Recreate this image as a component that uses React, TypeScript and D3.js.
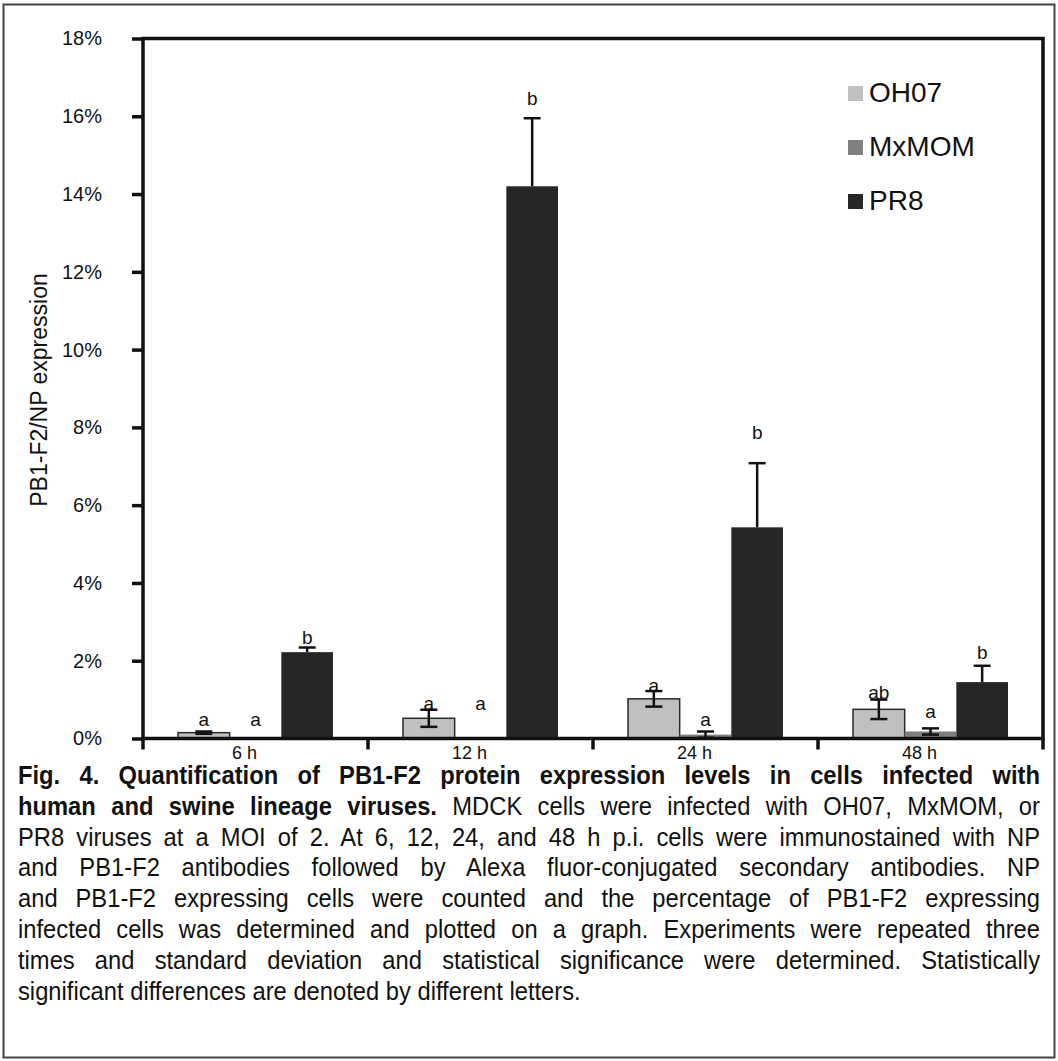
import React, { useEffect, useRef } from "react";
import * as d3 from "d3";

const timepoints = ["6 h", "12 h", "24 h", "48 h"];
const strains = ["OH07", "MxMOM", "PR8"];
const strainColors = ["#c0c0c0", "#808080", "#262626"];

// percent of PB1-F2 positive among NP positive cells
const oh07Values = [0.15, 0.52, 1.02, 0.75];
const oh07Errors = [0.03, 0.22, 0.2, 0.25];
const mxmomValues = [0, 0, 0.1, 0.18];
const mxmomErrors = [0, 0, 0.08, 0.08];
const pr8Values = [2.22, 14.2, 5.43, 1.45];
const pr8Errors = [0.12, 1.75, 1.65, 0.42];

// significance letters and the value (%) their baseline sits at
const oh07Letters = ["a", "a", "a", "ab"];
const mxmomLetters = ["a", "a", "a", "a"];
const pr8Letters = ["b", "b", "b", "b"];
const oh07LetterAt = [0.32, 0.73, 1.2, 1.02];
const mxmomLetterAt = [0.32, 0.73, 0.32, 0.53];
const pr8LetterAt = [2.43, 16.3, 7.7, 2.04];

const yTicks = [0, 2, 4, 6, 8, 10, 12, 14, 16, 18];
const yLabel = "PB1-F2/NP expression";

const captionLines = [
  ["Fig. 4. Quantification of PB1-F2 protein expression levels in cells infected with", ""],
  ["human and swine lineage viruses. ", "MDCK cells were infected with OH07, MxMOM, or"],
  ["", "PR8 viruses at a MOI of 2. At 6, 12, 24, and 48 h p.i. cells were immunostained with NP"],
  ["", "and PB1-F2 antibodies followed by Alexa fluor-conjugated secondary antibodies. NP"],
  ["", "and PB1-F2 expressing cells were counted and the percentage of PB1-F2 expressing"],
  ["", "infected cells was determined and plotted on a graph. Experiments were repeated three"],
  ["", "times and standard deviation and statistical significance were determined. Statistically"],
  ["", "significant differences are denoted by different letters."],
];

const W = 1058;
const H = 1061;
const plot = { left: 143, right: 1043, top: 38.5, bottom: 738.5 };
const font = "Liberation Sans, Arial, sans-serif";

const App = () => {
  const ref = useRef<HTMLDivElement>(null);

  useEffect(() => {
    const root = d3.select(ref.current);
    root.selectAll("*").remove();

    const svg = root
      .append("svg")
      .attr("width", W)
      .attr("height", H)
      .style("position", "absolute")
      .style("left", "0px")
      .style("top", "0px")
      .style("background", "#fff")
      .attr("font-family", font);

    // outer figure border
    svg.append("rect").attr("x", 3.5).attr("y", 4.5).attr("width", W - 7).attr("height", H - 8)
      .attr("fill", "none").attr("stroke", "#444").attr("stroke-width", 2);

    const x0 = d3.scaleBand().domain(timepoints).range([plot.left, plot.right]);
    const x1 = d3.scaleBand().domain(strains).range([35, x0.bandwidth() - 35]);
    const y = d3.scaleLinear().domain([0, 18]).range([plot.bottom, plot.top]);

    const series = [
      { values: oh07Values, errors: oh07Errors, letters: oh07Letters, letterAt: oh07LetterAt },
      { values: mxmomValues, errors: mxmomErrors, letters: mxmomLetters, letterAt: mxmomLetterAt },
      { values: pr8Values, errors: pr8Errors, letters: pr8Letters, letterAt: pr8LetterAt },
    ];

    const rows = strains.flatMap((s, si) =>
      timepoints.map((t, ti) => ({
        t, s, si,
        v: series[si].values[ti],
        e: series[si].errors[ti],
        letter: series[si].letters[ti],
        la: series[si].letterAt[ti],
      }))
    );
    const cx = (d) => x0(d.t) + x1(d.s) + x1.bandwidth() / 2;

    // bars
    svg.append("g").selectAll("rect").data(rows.filter((d) => d.v > 0)).enter().append("rect")
      .attr("x", (d) => x0(d.t) + x1(d.s))
      .attr("y", (d) => y(d.v))
      .attr("width", x1.bandwidth())
      .attr("height", (d) => y(0) - y(d.v))
      .attr("fill", (d) => strainColors[d.si])
      .attr("stroke", (d) => (d.si === 0 ? "#2a2a2a" : strainColors[d.si]))
      .attr("stroke-width", (d) => (d.si === 0 ? 1.5 : 0));

    // error bars (the lower half disappears inside the dark PR8 bars)
    const eb = svg.append("g").attr("stroke", "#111").attr("stroke-width", 2.5);
    rows.filter((d) => d.e > 0).forEach((d) => {
      const c = cx(d);
      const lo = d.si === 2 ? d.v : d.v - d.e;
      eb.append("line").attr("x1", c).attr("x2", c).attr("y1", y(lo)).attr("y2", y(d.v + d.e));
      eb.append("line").attr("x1", c - 8.5).attr("x2", c + 8.5).attr("y1", y(d.v + d.e)).attr("y2", y(d.v + d.e));
      if (d.si !== 2) {
        eb.append("line").attr("x1", c - 8.5).attr("x2", c + 8.5).attr("y1", y(lo)).attr("y2", y(lo));
      }
    });

    // significance letters
    svg.append("g").selectAll("text").data(rows).enter().append("text")
      .attr("x", cx)
      .attr("y", (d) => y(d.la))
      .attr("text-anchor", "middle")
      .attr("font-size", 19)
      .attr("fill", "#111")
      .text((d) => d.letter);

    // plot area frame and axes
    svg.append("rect")
      .attr("x", plot.left).attr("y", plot.top)
      .attr("width", plot.right - plot.left).attr("height", plot.bottom - plot.top)
      .attr("fill", "none").attr("stroke", "#111").attr("stroke-width", 3.5);

    const yAxis = svg.append("g").attr("transform", `translate(${plot.left},0)`)
      .call(d3.axisLeft(y).tickValues(yTicks).tickSize(11).tickFormat((v) => `${v}%`));
    yAxis.select(".domain").remove();
    yAxis.selectAll(".tick line").attr("stroke", "#111").attr("stroke-width", 3.5);
    yAxis.selectAll(".tick text").attr("x", -41).attr("font-size", 20).attr("font-family", font).attr("fill", "#111");

    const bounds = timepoints.map((t) => x0(t)).concat([plot.right]);
    svg.append("g").selectAll("line").data(bounds).enter().append("line")
      .attr("x1", (d) => d).attr("x2", (d) => d)
      .attr("y1", plot.bottom).attr("y2", plot.bottom + 11)
      .attr("stroke", "#111").attr("stroke-width", 3.5);

    svg.append("g").selectAll("text").data(timepoints).enter().append("text")
      .attr("x", (d) => x0(d) + x0.bandwidth() / 2 - 11)
      .attr("y", 759)
      .attr("text-anchor", "middle")
      .attr("font-size", 18)
      .attr("fill", "#111")
      .text((d) => d);

    svg.append("text")
      .attr("transform", "translate(47,390) rotate(-90)")
      .attr("text-anchor", "middle")
      .attr("font-size", 23)
      .attr("fill", "#111")
      .text(yLabel);

    // legend
    const lg = svg.append("g").selectAll("g").data(strains).enter().append("g")
      .attr("transform", (d, i) => `translate(848,${86 + i * 54})`);
    lg.append("rect").attr("width", 15).attr("height", 15).attr("fill", (d, i) => strainColors[i]);
    lg.append("text").attr("x", 21).attr("y", 15.5).attr("font-size", 28).attr("fill", "#111").text((d) => d);

    // caption, justified; the source type is a touch narrow, so squeeze it horizontally
    const squeeze = 0.95;
    const capWidth = 1022 / squeeze;
    const cap = svg.append("g").attr("transform", `translate(18,0) scale(${squeeze},1)`);
    captionLines.forEach(([bold, normal], i) => {
      const t = cap.append("text")
        .attr("x", 0)
        .attr("y", 784 + i * 30.8)
        .attr("font-size", 25)
        .attr("fill", "#111")
        .style("white-space", "pre");
      if (bold) t.append("tspan").attr("font-weight", "bold").text(bold);
      if (normal) t.append("tspan").text(normal);
      if (i < captionLines.length - 1) {
        const node = t.node() as SVGTextElement;
        const w = node.getComputedTextLength();
        const gaps = ((bold + normal).trim().match(/ /g) || []).length;
        if (gaps > 0) t.attr("word-spacing", (capWidth - w) / gaps);
      }
    });
  }, []);

  return <div ref={ref} />;
};

export default App;
